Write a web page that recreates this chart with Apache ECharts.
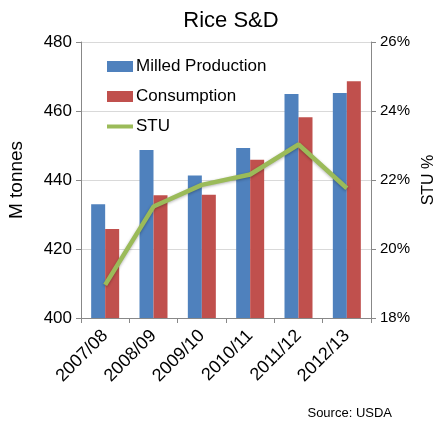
<!DOCTYPE html>
<html>
<head>
<meta charset="utf-8">
<script src="https://cdn.jsdelivr.net/npm/echarts@6/dist/echarts.min.js"></script>
<style>
  html, body { margin: 0; padding: 0; background: #fff; }
  #chart { width: 440px; height: 429px; }
</style>
</head>
<body>
<div id="chart"></div>
<script>
const categories = ['2007/08', '2008/09', '2009/10', '2010/11', '2011/12', '2012/13'];
const milledProduction = [433.0, 448.7, 441.3, 449.3, 464.9, 465.2];
const consumption = [425.8, 435.6, 435.7, 445.9, 458.2, 468.6];
const stu = [18.96, 21.23, 21.86, 22.16, 23.03, 21.76];

const font = 'Liberation Sans, Arial, sans-serif';
const myChart = echarts.init(document.getElementById('chart'));

myChart.setOption({
  animation: false,
  textStyle: {fontFamily: font, color: '#000'},
  title: {
    text: 'Rice S&D',
    left: 226,
    textAlign: 'center',
    top: 5,
    textStyle: {fontFamily: font, fontSize: 22, fontWeight: 'normal', color: '#000'}
  },
  graphic: [{
    type: 'text',
    right: 48,
    top: 407,
    style: {text: 'Source: USDA', font: '13px ' + font, fill: '#000'}
  }],
  legend: {
    orient: 'vertical',
    left: 100,
    top: 53,
    itemWidth: 26,
    itemHeight: 11,
    itemGap: 13,
    textStyle: {fontFamily: font, fontSize: 17, color: '#000', padding: [0, 0, 0, -2]},
    data: [
      {name: 'Milled Production', icon: 'rect'},
      {name: 'Consumption', icon: 'rect'},
      {name: 'STU', itemStyle: {opacity: 0}, lineStyle: {width: 4, color: '#9BBB59'}}
    ]
  },
  grid: {left: 81, right: 69, top: 42, bottom: 111, containLabel: false, outerBoundsMode: 'none'},
  xAxis: {
    type: 'category',
    data: categories,
    axisLine: {lineStyle: {color: '#888'}},
    axisTick: {show: true, length: 5, lineStyle: {color: '#888'}},
    axisLabel: {rotate: 45, fontSize: 18, color: '#000', fontFamily: font, margin: 15}
  },
  yAxis: [
    {
      type: 'value',
      min: 400,
      max: 480,
      interval: 20,
      name: 'M tonnes',
      nameLocation: 'middle',
      nameGap: 55,
      nameTextStyle: {fontSize: 19, color: '#000', fontFamily: font},
      axisLine: {show: true, lineStyle: {color: '#888'}},
      axisTick: {show: true, length: 5, lineStyle: {color: '#888'}},
      axisLabel: {fontSize: 17, color: '#000', fontFamily: font, margin: 9},
      splitLine: {lineStyle: {color: '#d9d9d9'}}
    },
    {
      type: 'value',
      min: 18,
      max: 26,
      interval: 2,
      name: 'STU %',
      nameLocation: 'middle',
      nameGap: 47,
      nameRotate: 90,
      nameTextStyle: {fontSize: 16, color: '#000', fontFamily: font},
      axisLine: {show: true, lineStyle: {color: '#888'}},
      axisTick: {show: true, length: 5, lineStyle: {color: '#888'}},
      axisLabel: {fontSize: 15, color: '#000', fontFamily: font, margin: 9, formatter: '{value}%'},
      splitLine: {show: false}
    }
  ],
  series: [
    {
      name: 'Milled Production',
      type: 'bar',
      data: milledProduction,
      barWidth: 14,
      barGap: '0%',
      itemStyle: {color: '#4F81BD'}
    },
    {
      name: 'Consumption',
      type: 'bar',
      data: consumption,
      barWidth: 14,
      itemStyle: {color: '#C0504D'}
    },
    {
      name: 'STU',
      type: 'line',
      yAxisIndex: 1,
      data: stu,
      symbol: 'none',
      lineStyle: {color: '#9BBB59', width: 4.5, shadowColor: 'rgba(0,0,0,0.3)', shadowBlur: 3, shadowOffsetY: 1},
      itemStyle: {color: '#9BBB59'}
    }
  ]
});
</script>
</body>
</html>
